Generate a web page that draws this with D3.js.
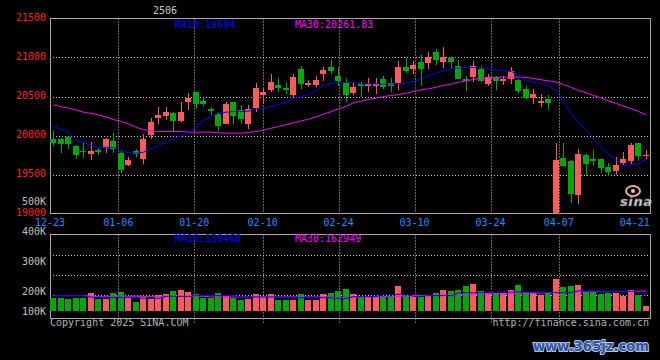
<!DOCTYPE html>
<html><head><meta charset="utf-8">
<script src="https://cdn.jsdelivr.net/npm/d3@7"></script>
<style>html,body{margin:0;padding:0;background:#000;} svg{display:block;}</style>
</head><body>
<svg id="chart" width="660" height="360"></svg>
<script>
const title = "2506";
const dates = ["12-23","12-24","12-25","12-26","12-27","12-30","12-31",
"01-02","01-03","01-06","01-07","01-08","01-09","01-10","01-13","01-14","01-15","01-16","01-17","01-20","01-21","01-22","01-23","01-24","01-27",
"02-05","02-06","02-07","02-10","02-11","02-12","02-13","02-14","02-17","02-18","02-19","02-20","02-21","02-24","02-25","02-26","02-27","02-28",
"03-03","03-04","03-05","03-06","03-07","03-10","03-11","03-12","03-13","03-14","03-17","03-18","03-19","03-20","03-21","03-24","03-25","03-26","03-27","03-28","03-31",
"04-01","04-02","04-03","04-07","04-08","04-09","04-10","04-11","04-14","04-15","04-16","04-17","04-18","04-21","04-22","04-23"];
const opens = [19953,19953,19979,19859,19803,19765,19812,19838,19927,19782,
19624,19795,19701,20004,20226,20248,20286,20192,20427,20556,
20440,20338,20278,20150,20427,20321,20150,20355,20521,20586,
20650,20603,20521,20850,20650,20650,20791,20876,20761,20680,
20547,20654,20637,20637,20722,20671,20675,20876,20855,20944,
20932,21068,20944,20992,20897,20722,20748,20855,20662,20756,
20701,20718,20709,20594,20483,20419,20466,18900,19709,19671,
19239,19744,19697,19701,19590,19547,19650,19671,19902,19739];
const highs = [20056,19962,19987,19880,19915,19915,19838,19962,20030,19808,
19722,19821,20013,20222,20359,20359,20299,20427,20543,20556,
20500,20363,20299,20427,20427,20385,20385,20671,20607,20786,
20735,20692,20786,20889,20714,20761,20876,20970,20876,20735,
20684,20684,20735,20735,20765,20735,20953,20996,20953,21026,
21068,21111,21133,21009,20962,20769,20953,20897,20791,20769,
20769,20876,20718,20641,20594,20526,20513,19902,19902,19680,
19825,19765,19812,19701,19645,19722,19787,19902,19902,19808];
const lows = [19868,19773,19833,19701,19714,19688,19744,19782,19778,19517,
19611,19722,19637,19957,20150,20197,20043,20171,20329,20342,
20372,20265,20056,20150,20150,20150,20086,20299,20398,20556,
20556,20534,20500,20598,20620,20628,20697,20791,20641,20427,
20513,20500,20564,20534,20598,20564,20586,20803,20791,20641,
20855,20906,20868,20855,20718,20568,20684,20692,20633,20586,
20650,20654,20547,20462,20406,20363,20329,18850,19594,19133,
19120,19487,19607,19521,19487,19496,19624,19632,19667,19697];
const closes = [19902,19885,19893,19752,19786,19799,19786,19953,19829,19556,
19688,19757,19953,20171,20261,20299,20180,20299,20479,20402,
20402,20316,20120,20402,20248,20214,20342,20607,20556,20684,
20611,20586,20748,20662,20671,20714,20838,20825,20697,20521,
20628,20633,20662,20662,20628,20637,20876,20829,20902,20855,
21009,20970,21009,20936,20718,20701,20897,20697,20756,20701,
20727,20825,20573,20483,20534,20440,20415,19684,19615,19248,
19761,19637,19675,19581,19538,19624,19701,19876,19735,19752];
const ma10 = [20115,20077,20034,19936,19906,19872,19850,19850,19846,19795,
19782,19774,19786,19829,19872,19923,19957,19992,20051,20115,
20192,20248,20286,20299,20308,20308,20312,20342,20346,20372,
20397,20423,20470,20500,20530,20577,20641,20667,20680,20680,
20680,20662,20662,20662,20658,20658,20662,20671,20692,20727,
20769,20799,20825,20855,20863,20876,20872,20868,20855,20842,
20829,20821,20769,20705,20684,20662,20633,20577,20427,20278,
20171,20064,19957,19850,19765,19685,19610,19625,19640,19694];
const ma30 = [20393,20368,20350,20325,20299,20282,20265,20235,20205,20180,
20150,20103,20077,20060,20051,20051,20051,20051,20043,20043,
20043,20043,20034,20030,20030,20030,20039,20051,20068,20094,
20115,20141,20162,20188,20209,20239,20274,20308,20342,20376,
20419,20440,20462,20479,20500,20513,20526,20543,20564,20586,
20598,20620,20641,20662,20684,20701,20718,20735,20739,20744,
20748,20748,20748,20744,20731,20714,20701,20684,20654,20615,
20577,20547,20513,20479,20444,20410,20376,20342,20308,20262];
const volumes = [108,108,98,108,108,149,100,100,149,157,
108,76,114,98,130,141,165,173,157,141,
108,108,149,120,108,92,100,141,124,141,
92,92,92,141,92,92,141,146,163,179,
138,122,122,122,114,114,203,122,122,114,
130,146,171,163,171,203,220,163,146,146,
146,171,211,154,146,130,146,260,195,203,
211,154,154,138,146,146,122,171,130,41].map(v => v * 1000);
const volMa10 = [125,125,125,125,125,111,111,111,111,111,
111,111,103,103,103,119,119,119,119,125,
125,125,125,125,125,114,114,114,114,114,
114,108,108,108,108,108,108,108,103,103,
117,117,117,117,133,133,136,136,119,119,
125,125,125,125,149,149,149,149,149,154,
154,154,154,154,154,154,154,149,149,149,
165,165,165,160,160,160,160,160,150,139.468].map(v => v * 1000);
const volMa30 = [125,125,125,125,125,119,119,119,119,119,
119,119,119,119,119,119,119,119,119,119,
119,114,114,114,114,114,114,114,114,114,
114,114,114,114,114,114,114,114,110,111,
112,113,114,115,116,117,120,122,124,126,
127,128,130,131,133,134,136,137,138,139,
140,141,143,144,145,146,147,149,150,152,
153,154,155,156,157,158,159,160,161,162.949].map(v => v * 1000);
const priceTicks = [21500, 21000, 20500, 20000, 19500, 19000];
const volTicks = [500000, 400000, 300000, 200000, 100000];
const xTickLabels = ["12-23","01-06","01-20","02-10","02-24","03-10","03-24","04-07","04-21"];
const gridDates = ["01-06","01-20","02-10","02-24","03-10","03-24","04-07"];

const UP = "#ff5a5a", DOWN = "#00a800", GRID = "#c8c8c8", FRAME = "#a8a8a8";
const MONO = "'DejaVu Sans Mono', monospace";

const svg = d3.select("#chart");
svg.append("rect").attr("width", 660).attr("height", 360).attr("fill", "#000");

const L = 50, R = 650, T = 18.5, B = 213.5;
const VT = 234.5, VB = 318.5, VBASE = 311;
const x = d3.scaleBand().domain(d3.range(dates.length)).range([L, R]);
const xg = d3.scaleLinear().domain([0, dates.length - 1]).range([L, R]);
const y = d3.scaleLinear().domain([19000, 21500]).range([B, T]);
const yv = d3.scaleLinear().domain([0, 100000]).range([VBASE, VBASE - 12.3]);
const yvl = d3.scaleLinear().domain([100000, 500000]).range([321, 201]);
const bx = i => Math.round(x(i));
const cx = i => bx(i) + 3.5;

svg.append("defs").append("clipPath").attr("id", "clipMain")
  .append("rect").attr("x", L).attr("y", T).attr("width", R - L).attr("height", B - T);

// grid main
const g = svg.append("g");
g.selectAll(".hg").data(priceTicks.filter(v => v !== 21500 && v !== 19000)).join("line")
  .attr("x1", L).attr("x2", R).attr("y1", d => Math.round(y(d)) + 0.5).attr("y2", d => Math.round(y(d)) + 0.5)
  .attr("stroke", GRID).attr("stroke-dasharray", "1,2");
const gIdx = gridDates.map(d => dates.indexOf(d));
g.selectAll(".vg").data(gIdx).join("line")
  .attr("x1", d => Math.round(xg(d)) + 0.5).attr("x2", d => Math.round(xg(d)) + 0.5)
  .attr("y1", T).attr("y2", B).attr("stroke", GRID).attr("stroke-dasharray", "1,2");
// grid volume
g.selectAll(".vhg").data(d3.range(3)).join("line")
  .attr("x1", L).attr("x2", R).attr("y1", d => 255.5 + d * 20).attr("y2", d => 255.5 + d * 20)
  .attr("stroke", GRID).attr("stroke-dasharray", "1,2");
g.selectAll(".vvg").data(gIdx).join("line")
  .attr("x1", d => Math.round(xg(d)) + 0.5).attr("x2", d => Math.round(xg(d)) + 0.5)
  .attr("y1", VT).attr("y2", VB + 4).attr("stroke", GRID).attr("stroke-dasharray", "1,2");

// frames
[[T, B], [VT, VB]].forEach(([t, b]) => {
  svg.append("rect").attr("x", L + 0.5).attr("y", t).attr("width", R - L).attr("height", b - t)
    .attr("fill", "none").attr("stroke", FRAME).attr("stroke-width", 1);
});

// candles
const cg = svg.append("g").attr("clip-path", "url(#clipMain)").attr("shape-rendering", "crispEdges");
const idx = d3.range(dates.length);
const col = i => closes[i] >= opens[i] ? UP : DOWN;
cg.selectAll(".wick").data(idx).join("line")
  .attr("x1", cx).attr("x2", cx).attr("y1", i => y(highs[i])).attr("y2", i => y(lows[i]))
  .attr("stroke", col);
cg.selectAll(".body").data(idx).join("rect")
  .attr("x", bx).attr("width", 6)
  .attr("y", i => y(Math.max(opens[i], closes[i])))
  .attr("height", i => Math.max(1.5, Math.abs(y(opens[i]) - y(closes[i]))))
  .attr("fill", col);

// MA lines main
const lineMain = arr => d3.line().x((d, i) => cx(i)).y(d => y(d))(arr);
svg.append("path").attr("d", lineMain(ma30)).attr("fill", "none").attr("stroke", "#ff00ff").attr("stroke-width", 1).attr("clip-path", "url(#clipMain)");
svg.append("path").attr("d", lineMain(ma10)).attr("fill", "none").attr("stroke", "#0000ff").attr("stroke-width", 1).attr("clip-path", "url(#clipMain)");

// volume bars
svg.append("g").attr("shape-rendering", "crispEdges").selectAll("rect").data(idx).join("rect")
  .attr("x", bx).attr("width", 6)
  .attr("y", i => yv(volumes[i])).attr("height", i => VBASE - yv(volumes[i]))
  .attr("fill", col);
const lineVol = arr => d3.line().x((d, i) => cx(i)).y(d => yv(d))(arr);
svg.append("path").attr("d", lineVol(volMa30)).attr("fill", "none").attr("stroke", "#ff00ff").attr("stroke-width", 1);
svg.append("path").attr("d", lineVol(volMa10)).attr("fill", "none").attr("stroke", "#0000ff").attr("stroke-width", 1);

// texts
const txt = (s, xx, yy, fill, anchor) => svg.append("text").text(s).attr("x", xx).attr("y", yy)
  .attr("fill", fill).attr("font-family", MONO).attr("font-size", 10).attr("text-anchor", anchor || "start");
priceTicks.forEach(v => txt(String(v), 46, y(v) + 2.5, "#ff2020", "end"));
volTicks.forEach(v => txt((v / 1000) + "K", 46, Math.min(yvl(v), 311) + 3.6, "#c0c0c0", "end"));
xTickLabels.forEach(d => txt(d, xg(dates.indexOf(d)), 225.5, "#1a8cff", "middle"));
txt(title, 153, 13.5, "#c8c8c8");
txt("MA10:" + ma10[ma10.length - 1], 175, 27.5, "#0000ff");
txt("MA30:" + (20261.83).toFixed(2), 295, 27.5, "#ff00ff");
txt("MA10:" + Math.round(volMa10[volMa10.length - 1]), 175, 242, "#0000ff");
txt("MA30:" + Math.round(volMa30[volMa30.length - 1]), 295, 242, "#ff00ff");
txt("Copyright 2025 SINA.COM", 50, 326, "#b0b0b0");
txt("http://finance.sina.com.cn", 649, 326, "#b0b0b0", "end");

// sina logo
svg.append("ellipse").attr("cx", 633).attr("cy", 191).attr("rx", 7).attr("ry", 5)
  .attr("fill", "none").attr("stroke", "#f0a8a8").attr("stroke-width", 2);
svg.append("circle").attr("cx", 633).attr("cy", 191).attr("r", 2).attr("fill", "#f0c0c0");
svg.append("text").text("sina").attr("x", 620).attr("y", 206).attr("font-family", "'DejaVu Sans', sans-serif")
  .attr("font-size", 13).attr("font-weight", "bold").attr("font-style", "italic")
  .attr("fill", "#d8d8d8").attr("stroke", "#707070").attr("stroke-width", 0.6).attr("textLength", 32);

// watermark
svg.append("text").text("www.365jz.com").attr("x", 533).attr("y", 351)
  .attr("font-family", "'DejaVu Sans', sans-serif").attr("font-size", 14).attr("font-weight", "bold")
  .attr("fill", "#2d55a5").attr("stroke", "#b8c8e8").attr("stroke-width", 2)
  .attr("paint-order", "stroke").attr("textLength", 116).attr("lengthAdjust", "spacingAndGlyphs");
</script>
</body></html>
